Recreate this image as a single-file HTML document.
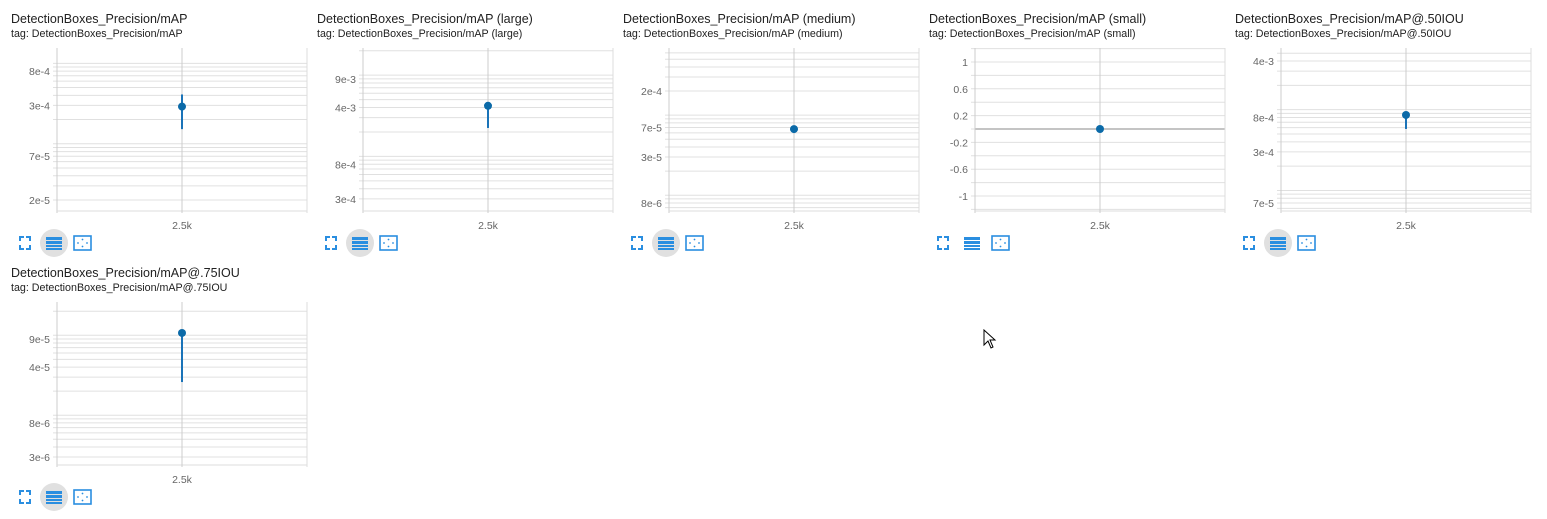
<!DOCTYPE html>
<html><head><meta charset="utf-8">
<style>
body{margin:0;width:1547px;height:519px;background:#fff;font-family:"Liberation Sans",sans-serif;overflow:hidden;position:relative}
.card{position:absolute;width:306px;height:254px;overflow:visible}
.t{position:absolute;left:11px;top:12px;font-size:12.5px;color:#212121;white-space:nowrap}
.s{position:absolute;left:11px;top:28px;font-size:10.7px;color:#212121;white-space:nowrap}
svg.c{position:absolute;left:0;top:0;overflow:visible}
</style></head><body>
<div id="root"></div>
<svg style="position:absolute;left:983px;top:329px" width="14" height="22"><path d="M1 1 L1 16 L5 12 L8 19 L10 18 L7 11 L12 11 Z" fill="#fff" stroke="#000" stroke-width="1"/></svg>
<script>
const titles=["DetectionBoxes_Precision/mAP","DetectionBoxes_Precision/mAP (large)","DetectionBoxes_Precision/mAP (medium)","DetectionBoxes_Precision/mAP (small)","DetectionBoxes_Precision/mAP@.50IOU","DetectionBoxes_Precision/mAP@.75IOU"];
const scaleTypes=["log","log","log","linear","log","log"];
const domainTop=[1.55e-3,2.16e-2,6.9e-4,1.209,5.8e-3,2.61e-4];
const domainBottom=[1.46e-5,2.13e-4,6.35e-6,-1.224,5.57e-5,2.38e-6];
const tickLabels=[["8e-4","3e-4","7e-5","2e-5"],["9e-3","4e-3","8e-4","3e-4"],["2e-4","7e-5","3e-5","8e-6"],["1","0.6","0.2","-0.2","-0.6","-1"],["4e-3","8e-4","3e-4","7e-5"],["9e-5","4e-5","8e-6","3e-6"]];
const steps=[2500];
const stepLabels=["2.5k"];
const values=[2.9e-4,4.2e-3,6.7e-5,0,8.6e-4,1.07e-4];
const valueMax=[4.1e-4,4.3e-3,6.7e-5,0,8.8e-4,1.07e-4];
const valueMin=[1.52e-4,2.24e-3,6.7e-5,0,5.77e-4,2.6e-5];
const listActive=[true,true,true,false,true,true];

const NS="http://www.w3.org/2000/svg";
const X0=57,X1=307,Y0=48,Y1=211,XMIN=0,XMAX=5000;
function el(tag,attrs,parent){const e=document.createElementNS(NS,tag);for(const k in attrs)e.setAttribute(k,attrs[k]);parent.appendChild(e);return e;}
const root=document.getElementById('root');
titles.forEach((title,i)=>{
  const col=i%5,row=Math.floor(i/5);
  const card=document.createElement('div');card.className='card';
  
  
  card.style.left=(col*306)+'px';card.style.top=(row*254)+'px';
  root.appendChild(card);
  const t=document.createElement('div');t.className='t';t.textContent=title;
  
  
  card.appendChild(t);
  const s=document.createElement('div');s.className='s';s.textContent='tag: '+title;
  
  
  card.appendChild(s);
  const svg=document.createElementNS(NS,'svg');svg.setAttribute('class','c');svg.setAttribute('width',306);svg.setAttribute('height',262);
  
  
  card.appendChild(svg);
  const isLog=scaleTypes[i]==='log';
  const tr=v=>isLog?Math.log10(v):v;
  const a=tr(domainTop[i]),b=tr(domainBottom[i]);
  const y=v=>Y0+(a-tr(v))/(a-b)*(Y1-Y0);
  const x=v=>X0+(v-XMIN)/(XMAX-XMIN)*(X1-X0);
  const grid=[];
  if(isLog){for(let e=Math.floor(b);e<=Math.ceil(a);e++)for(let k=1;k<10;k++){const v=k*Math.pow(10,e);if(tr(v)<=a&&tr(v)>=b)grid.push(v);}}
  else{for(let v=-1.2;v<=1.21;v+=0.2)grid.push(Math.round(v*10)/10);}
  grid.forEach(v=>{const g=el('line',{x1:X0-4,x2:X1,y1:y(v),y2:y(v),stroke:'#e0e0e0','stroke-width':1},svg);});
  if(!isLog){const z=el('line',{x1:X0,x2:X1,y1:y(0),y2:y(0),stroke:'#888','stroke-width':1},svg);}
  tickLabels[i].forEach(lb=>{const tx=el('text',{x:X0-7,y:y(parseFloat(lb))+4,'text-anchor':'end','font-size':10.5,fill:'#666','font-family':'Liberation Sans'},svg);tx.textContent=lb;});
  el('line',{x1:X0,x2:X0,y1:Y0,y2:Y1+2,stroke:'#ccc'},svg);
  el('line',{x1:X1,x2:X1,y1:Y0,y2:Y1+2,stroke:'#ddd'},svg);
  el('line',{x1:X0,x2:X1,y1:Y1,y2:Y1,stroke:'#ddd'},svg);
  steps.forEach((st,j)=>{el('line',{x1:x(st),x2:x(st),y1:Y0,y2:Y1+2,stroke:'#ccc'},svg);
    const tx=el('text',{x:x(st),y:Y1+18,'text-anchor':'middle','font-size':10.5,fill:'#666','font-family':'Liberation Sans'},svg);tx.textContent=stepLabels[j];
  });
  const eb=el('line',{x1:x(steps[0]),x2:x(steps[0]),y1:y(valueMax[i]),y2:y(valueMin[i]),stroke:'#1a73b8','stroke-width':2},svg);
  
  const pt=el('circle',{cx:x(steps[0]),cy:y(values[i]),r:4,fill:'#0b6aa8'},svg);
  
  const iy=243;
  const fs=el('g',{},svg);
  el('path',{d:`M20 ${iy-2} v-4 h4 M26 ${iy-6} h4 v4 M30 ${iy+2} v4 h-4 M24 ${iy+6} h-4 v-4`,stroke:'#2a8ee0','stroke-width':2,fill:'none'},fs);
  const lg=el('g',{},svg);
  if(listActive[i])el('circle',{cx:54,cy:iy,r:14,fill:'#e0e0e0'},lg);
  [-6,-2,2,5].forEach((d,k)=>el('rect',{x:46,y:iy+d,width:16,height:k<2?3:2,fill:'#2a8ee0'},lg));
  const ft=el('g',{},svg);
  el('rect',{x:74,y:iy-7,width:17,height:14,fill:'none',stroke:'#2a8ee0','stroke-width':1.6},ft);
  [[78,iy],[87,iy],[82.5,iy-3.5],[82.5,iy+3.5]].forEach(p=>el('circle',{cx:p[0],cy:p[1],r:0.9,fill:'#2a8ee0'},ft));
});
</script>
</body></html>
